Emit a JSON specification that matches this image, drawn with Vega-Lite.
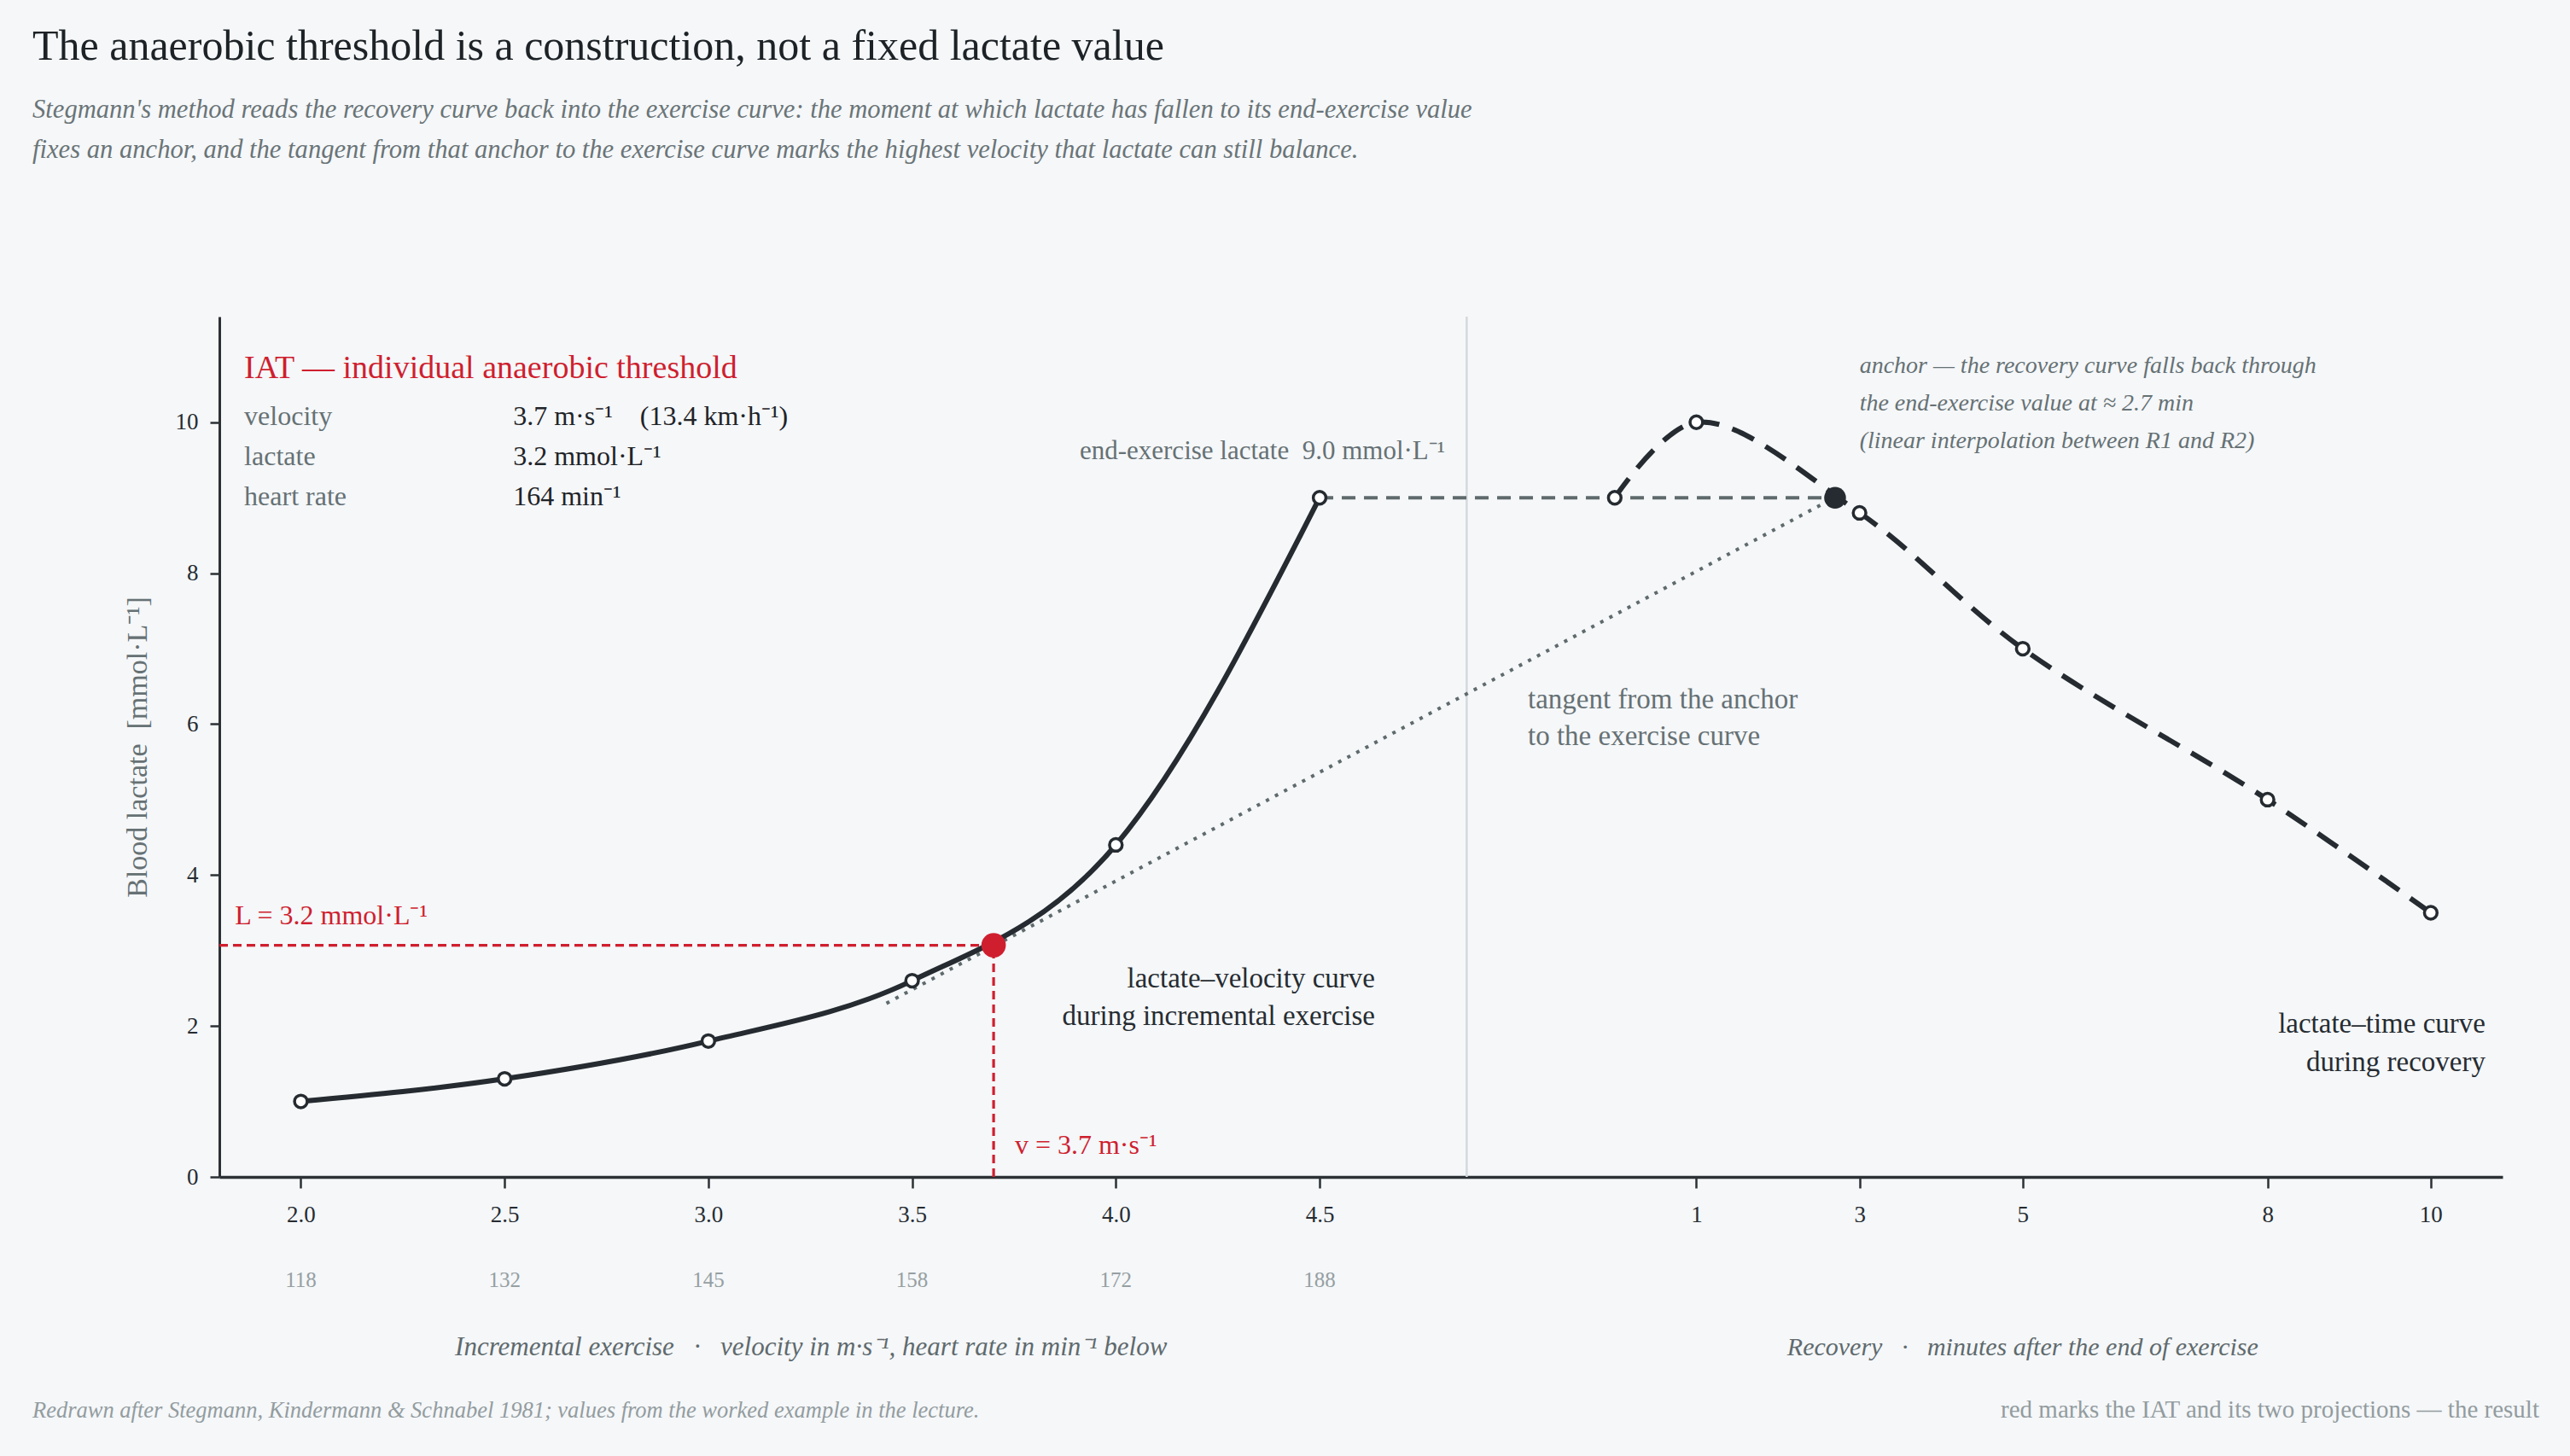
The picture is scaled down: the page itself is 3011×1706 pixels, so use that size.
{
  "$schema": "https://vega.github.io/schema/vega-lite/v6.json",
  "description": "Stegmann IAT construction: lactate-velocity curve during incremental exercise and lactate-time curve during recovery.",
  "width": 2675,
  "height": 1008,
  "autosize": "none",
  "padding": {"left": 257, "top": 371, "right": 79, "bottom": 327},
  "background": "#f5f7f9",
  "config": {
    "view": {"stroke": null},
    "font": "Liberation Serif",
    "axis": {"grid": false, "labelFont": "Liberation Serif", "titleFont": "Liberation Serif"},
    "text": {"font": "Liberation Serif"}
  },
  "title": {
    "text": "The anaerobic threshold is a construction, not a fixed lactate value",
    "subtitle": [
      "Stegmann's method reads the recovery curve back into the exercise curve: the moment at which lactate has fallen to its end-exercise value",
      "fixes an anchor, and the tangent from that anchor to the exercise curve marks the highest velocity that lactate can still balance."
    ],
    "anchor": "start",
    "frame": "group",
    "dx": -219,
    "offset": 178,
    "font": "Liberation Serif",
    "fontSize": 50,
    "fontWeight": "normal",
    "color": "#1d2226",
    "subtitleFont": "Liberation Serif",
    "subtitleFontStyle": "italic",
    "subtitleFontSize": 30.6,
    "subtitleColor": "#6a7477",
    "subtitleLineHeight": 47,
    "subtitlePadding": 34
  },
  "datasets": {
    "exercise": [
      {"v": 2.0, "lac": 1.0, "hr": 118},
      {"v": 2.5, "lac": 1.3, "hr": 132},
      {"v": 3.0, "lac": 1.8, "hr": 145},
      {"v": 3.5, "lac": 2.6, "hr": 158},
      {"v": 4.0, "lac": 4.4, "hr": 172},
      {"v": 4.5, "lac": 9.0, "hr": 188}
    ],
    "recovery": [
      {"t": 0, "lac": 9.0},
      {"t": 1, "lac": 10.0},
      {"t": 3, "lac": 8.8},
      {"t": 5, "lac": 7.0},
      {"t": 8, "lac": 5.0},
      {"t": 10, "lac": 3.5}
    ]
  },
  "encoding": {
    "y": {
      "field": "lac",
      "type": "quantitative",
      "scale": {"domain": [0, 11.4], "nice": false, "zero": false},
      "axis": {
        "title": "Blood lactate\u00a0\u00a0[mmol·L⁻¹]",
        "values": [0, 2, 4, 6, 8, 10],
        "format": "d",
        "labelFontSize": 27,
        "labelColor": "#262c31",
        "labelPadding": 14,
        "tickSize": 11,
        "tickWidth": 2.5,
        "tickColor": "#2b3134",
        "domainColor": "#2b3134",
        "domainWidth": 3,
        "titleFontSize": 34,
        "titleFontWeight": "normal",
        "titleColor": "#667174",
        "titlePadding": 27
      }
    }
  },
  "layer": [
    {
      "encoding": {
        "x": {
          "field": "v",
          "type": "quantitative",
          "scale": {"domain": [1.8, 7.403], "nice": false, "zero": false},
          "axis": {
            "title": null,
            "values": [2, 2.5, 3, 3.5, 4, 4.5],
            "format": ".1f",
            "labelFontSize": 27,
            "labelColor": "#262c31",
            "labelPadding": 18,
            "tickSize": 13,
            "tickWidth": 2.5,
            "tickColor": "#2b3134",
            "domainColor": "#2b3134",
            "domainWidth": 3.5
          }
        }
      },
      "layer": [
        {
          "data": {"values": [{"v": 4.861, "lac": 0, "lac2": 11.4}]},
          "mark": {"type": "rule", "color": "#d3d9dc", "strokeWidth": 2.5},
          "encoding": {"y2": {"field": "lac2"}}
        },
        {
          "data": {"values": [{"v": 3.437, "lac": 2.3, "v2": 5.763, "lac2": 9.0}]},
          "mark": {"type": "rule", "color": "#5f6a6c", "strokeWidth": 4, "strokeDash": [4, 8]},
          "encoding": {"x2": {"field": "v2"}, "y2": {"field": "lac2"}}
        },
        {
          "data": {"values": [{"v": 4.5, "lac": 9.0, "v2": 5.763, "lac2": 9.0}]},
          "mark": {"type": "rule", "color": "#5f6a6c", "strokeWidth": 4, "strokeDash": [16, 10]},
          "encoding": {"x2": {"field": "v2"}, "y2": {"field": "lac2"}}
        },
        {
          "data": {"values": [
            {"v": 1.8, "lac": 3.07, "v2": 3.7, "lac2": 3.07},
            {"v": 3.7, "lac": 0, "v2": 3.7, "lac2": 3.07}
          ]},
          "mark": {"type": "rule", "color": "#cf1f2f", "strokeWidth": 3.2, "strokeDash": [10, 6]},
          "encoding": {"x2": {"field": "v2"}, "y2": {"field": "lac2"}}
        },
        {
          "data": {"name": "exercise"},
          "mark": {"type": "line", "interpolate": "monotone", "color": "#252b30", "strokeWidth": 6},
          "encoding": {}
        },
        {
          "data": {"name": "exercise"},
          "mark": {"type": "point", "filled": true, "fill": "#ffffff", "stroke": "#252b30", "strokeWidth": 3.5, "size": 220, "opacity": 1}
        },
        {
          "data": {"values": [{"v": 3.7, "lac": 3.07}]},
          "mark": {"type": "circle", "color": "#cf1f2f", "size": 820, "opacity": 1}
        },
        {
          "data": {"name": "exercise"},
          "mark": {"type": "text", "align": "center", "baseline": "alphabetic", "fontSize": 25, "color": "#969fa2"},
          "encoding": {"y": {"datum": -1.46}, "text": {"field": "hr"}}
        },
        {
          "data": {"values": [{"label": "IAT — individual anaerobic threshold", "v": 1.861, "lac": 10.59}]},
          "mark": {"type": "text", "align": "left", "baseline": "alphabetic", "fontSize": 38, "color": "#cf1f2f"},
          "encoding": {"text": {"field": "label"}}
        },
        {
          "data": {"values": [{"label": ["velocity", "lactate", "heart rate"], "v": 1.861, "lac": 9.96}]},
          "mark": {"type": "text", "align": "left", "baseline": "alphabetic", "fontSize": 32, "lineHeight": 47, "color": "#667174"},
          "encoding": {"text": {"field": "label"}}
        },
        {
          "data": {"values": [{"label": ["3.7 m·s⁻¹\u00a0\u00a0\u00a0\u00a0(13.4 km·h⁻¹)", "3.2 mmol·L⁻¹", "164 min⁻¹"], "v": 2.521, "lac": 9.96}]},
          "mark": {"type": "text", "align": "left", "baseline": "alphabetic", "fontSize": 32, "lineHeight": 47, "color": "#1f2428"},
          "encoding": {"text": {"field": "label"}}
        },
        {
          "data": {"values": [{"label": "end-exercise lactate\u00a0\u00a09.0 mmol·L⁻¹", "v": 4.808, "lac": 9.51}]},
          "mark": {"type": "text", "align": "right", "baseline": "alphabetic", "fontSize": 31, "color": "#667174"},
          "encoding": {"text": {"field": "label"}}
        },
        {
          "data": {"values": [{"label": ["tangent from the anchor", "to the exercise curve"], "v": 5.011, "lac": 6.21}]},
          "mark": {"type": "text", "align": "left", "baseline": "alphabetic", "fontSize": 33, "lineHeight": 43, "color": "#667174"},
          "encoding": {"text": {"field": "label"}}
        },
        {
          "data": {"values": [{"label": ["lactate–velocity curve", "during incremental exercise"], "v": 4.636, "lac": 2.51}]},
          "mark": {"type": "text", "align": "right", "baseline": "alphabetic", "fontSize": 33, "lineHeight": 44, "color": "#262c31"},
          "encoding": {"text": {"field": "label"}}
        },
        {
          "data": {"values": [{"label": "L = 3.2 mmol·L⁻¹", "v": 1.838, "lac": 3.35}]},
          "mark": {"type": "text", "align": "left", "baseline": "alphabetic", "fontSize": 32, "color": "#cf1f2f"},
          "encoding": {"text": {"field": "label"}}
        },
        {
          "data": {"values": [{"label": "v = 3.7 m·s⁻¹", "v": 3.752, "lac": 0.305}]},
          "mark": {"type": "text", "align": "left", "baseline": "alphabetic", "fontSize": 32, "color": "#cf1f2f"},
          "encoding": {"text": {"field": "label"}}
        },
        {
          "data": {"values": [{"label": "Incremental exercise\u00a0\u00a0\u00a0·\u00a0\u00a0\u00a0velocity in m·s⁻¹, heart rate in min⁻¹ below", "v": 3.252, "lac": -2.364}]},
          "mark": {"type": "text", "align": "center", "baseline": "alphabetic", "fontSize": 31, "fontStyle": "italic", "color": "#5f6a6d"},
          "encoding": {"text": {"field": "label"}}
        },
        {
          "data": {"values": [{"label": "Redrawn after Stegmann, Kindermann & Schnabel 1981; values from the worked example in the lecture.", "v": 1.3413, "lac": -3.19}]},
          "mark": {"type": "text", "align": "left", "baseline": "alphabetic", "fontSize": 26.5, "fontStyle": "italic", "color": "#939c9f"},
          "encoding": {"text": {"field": "label"}}
        },
        {
          "data": {"values": [{"label": "red marks the IAT and its two projections — the result", "v": 7.493, "lac": -3.19}]},
          "mark": {"type": "text", "align": "right", "baseline": "alphabetic", "fontSize": 29, "color": "#939c9f"},
          "encoding": {"text": {"field": "label"}}
        }
      ]
    },
    {
      "encoding": {
        "x": {
          "field": "t",
          "type": "quantitative",
          "scale": {"domain": [-17.1, 10.88], "nice": false, "zero": false},
          "axis": {
            "orient": "bottom",
            "title": null,
            "values": [1, 3, 5, 8, 10],
            "format": "d",
            "domain": false,
            "labelFontSize": 27,
            "labelColor": "#262c31",
            "labelPadding": 18,
            "tickSize": 13,
            "tickWidth": 2.5,
            "tickColor": "#2b3134"
          }
        }
      },
      "layer": [
        {
          "data": {"name": "recovery"},
          "mark": {"type": "line", "interpolate": "catmull-rom", "color": "#252b30", "strokeWidth": 6, "strokeDash": [28, 16]},
          "encoding": {}
        },
        {
          "data": {"name": "recovery"},
          "mark": {"type": "point", "filled": true, "fill": "#ffffff", "stroke": "#252b30", "strokeWidth": 3.5, "size": 220, "opacity": 1}
        },
        {
          "data": {"values": [{"t": 2.7, "lac": 9.0}]},
          "mark": {"type": "circle", "color": "#252b30", "size": 650, "opacity": 1}
        },
        {
          "data": {"values": [{"label": ["anchor — the recovery curve falls back through", "the end-exercise value at ≈ 2.7 min", "(linear interpolation between R1 and R2)"], "t": 3.0, "lac": 10.65}]},
          "mark": {"type": "text", "align": "left", "baseline": "alphabetic", "fontSize": 28, "fontStyle": "italic", "lineHeight": 44, "color": "#667174"},
          "encoding": {"text": {"field": "label"}}
        },
        {
          "data": {"values": [{"label": ["lactate–time curve", "during recovery"], "t": 10.67, "lac": 1.91}]},
          "mark": {"type": "text", "align": "right", "baseline": "alphabetic", "fontSize": 33, "lineHeight": 45, "color": "#262c31"},
          "encoding": {"text": {"field": "label"}}
        },
        {
          "data": {"values": [{"label": "Recovery\u00a0\u00a0\u00a0·\u00a0\u00a0\u00a0minutes after the end of exercise", "t": 5.0, "lac": -2.364}]},
          "mark": {"type": "text", "align": "center", "baseline": "alphabetic", "fontSize": 30, "fontStyle": "italic", "color": "#5f6a6d"},
          "encoding": {"text": {"field": "label"}}
        }
      ]
    }
  ],
  "resolve": {"scale": {"x": "independent"}, "axis": {"x": "independent"}}
}
